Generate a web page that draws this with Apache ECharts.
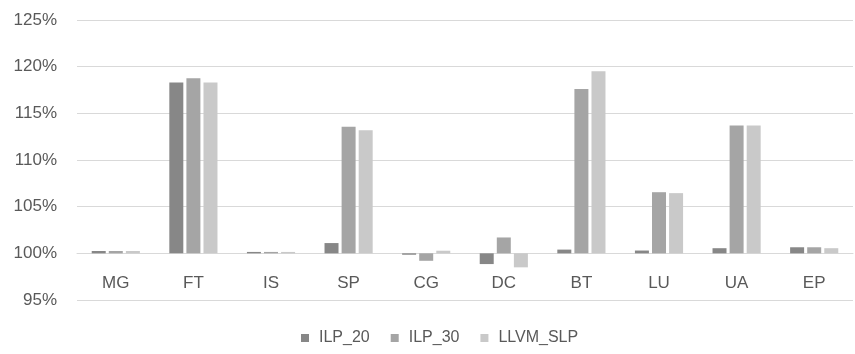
<!DOCTYPE html>
<html>
<head>
<meta charset="utf-8">
<script src="https://cdn.jsdelivr.net/npm/echarts@6/dist/echarts.min.js"></script>
<style>html,body{margin:0;padding:0;background:#fff;}#c{width:855px;height:354px;}</style>
</head>
<body>
<div id="c"></div>
<script>
const categories = ['MG','FT','IS','SP','CG','DC','BT','LU','UA','EP'];
const ilp20 = [100.25, 118.3, 100.15, 101.1, 99.85, 98.85, 100.4, 100.3, 100.55, 100.65];
const ilp30 = [100.25, 118.75, 100.15, 113.55, 99.2, 101.7, 117.6, 106.55, 113.7, 100.65];
const llvmSlp = [100.25, 118.3, 100.15, 113.2, 100.28, 98.5, 119.5, 106.45, 113.7, 100.55];
const seriesNames = ['ILP_20','ILP_30','LLVM_SLP'];
const yTicks = [95, 100, 105, 110, 115, 120, 125];
const BASE = 100;

const FONT = 'Liberation Sans, Arial, sans-serif';
const colors = ['#878787', '#a5a5a5', '#c9c9c9'];
const GRID_TOP = 20, GRID_BOTTOM = 54, H = 354;
const yMin = yTicks[0] - BASE, yMax = yTicks[yTicks.length-1] - BASE;
const plotH = H - GRID_TOP - GRID_BOTTOM;
const zeroOffset = -plotH * (0 - yMin) / (yMax - yMin);
const chart = echarts.init(document.getElementById('c'));
const rel = arr => arr.map(v => +(v - BASE).toFixed(3));
chart.setOption({
  animation: false,
  color: colors,
  grid: {left: 77, right: 2, top: GRID_TOP, bottom: GRID_BOTTOM, containLabel: false},
  legend: {
    data: seriesNames, bottom: 3, left: 296,
    itemWidth: 8, itemHeight: 8, itemGap: 21, icon: 'rect',
    textStyle: {color: '#595959', fontSize: 16, fontFamily: FONT, padding: [0,0,0,5]}
  },
  xAxis: {
    type: 'category', data: categories, offset: zeroOffset,
    axisLine: {onZero: false, lineStyle: {color: '#d9d9d9', width: 1}},
    axisTick: {show: false},
    axisLabel: {color: '#595959', fontSize: 17, fontFamily: FONT, margin: 21}
  },
  yAxis: {
    type: 'value', min: yMin, max: yMax, interval: 5,
    axisLine: {show: false}, axisTick: {show: false},
    splitLine: {lineStyle: {color: '#d9d9d9', width: 1}},
    axisLabel: {color: '#595959', fontSize: 17, fontFamily: FONT, margin: 20,
      formatter: v => Math.round(v + BASE) + '%'}
  },
  series: [
    {name: seriesNames[0], type: 'bar', data: rel(ilp20), barWidth: 14, barGap: '22%'},
    {name: seriesNames[1], type: 'bar', data: rel(ilp30), barWidth: 14, barGap: '22%'},
    {name: seriesNames[2], type: 'bar', data: rel(llvmSlp), barWidth: 14, barGap: '22%'}
  ]
});
</script>
</body>
</html>
